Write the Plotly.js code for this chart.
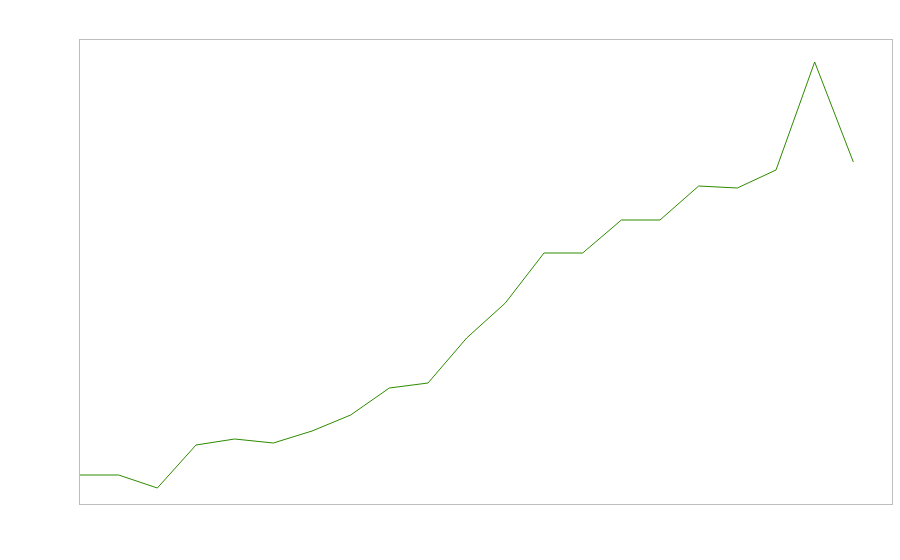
<!DOCTYPE html>
<html>
<head>
<meta charset="utf-8">
<script src="https://cdn.plot.ly/plotly-3.0.1.min.js"></script>
<style>html,body{margin:0;padding:0;background:#fff;}#chart{width:900px;height:560px;}</style>
</head>
<body>
<div id="chart"></div>
<script>
const xValues = [0,1,2,3,4,5,6,7,8,9,10,11,12,13,14,15,16,17,18,19,20];
const yValues = [29,29,16,59,65,61,73,89,116,121,166,201,251,251,284,284,318,316,334,442,342];

const trace = {
  x: xValues,
  y: yValues,
  type: 'scatter',
  mode: 'lines',
  line: {color: '#2e8b00', width: 1},
  hoverinfo: 'none'
};

const axisCommon = {
  showgrid: false,
  zeroline: false,
  showticklabels: false,
  ticks: '',
  showline: true,
  mirror: true,
  linecolor: '#bdbdbd',
  linewidth: 1
};

const layout = {
  width: 900,
  height: 560,
  margin: {l: 80, r: 8, t: 40, b: 56},
  paper_bgcolor: '#ffffff',
  plot_bgcolor: '#ffffff',
  showlegend: false,
  xaxis: Object.assign({range: [0, 21]}, axisCommon),
  yaxis: Object.assign({range: [0, 464]}, axisCommon)
};

Plotly.newPlot('chart', [trace], layout, {displayModeBar: false, staticPlot: true});
</script>
</body>
</html>
